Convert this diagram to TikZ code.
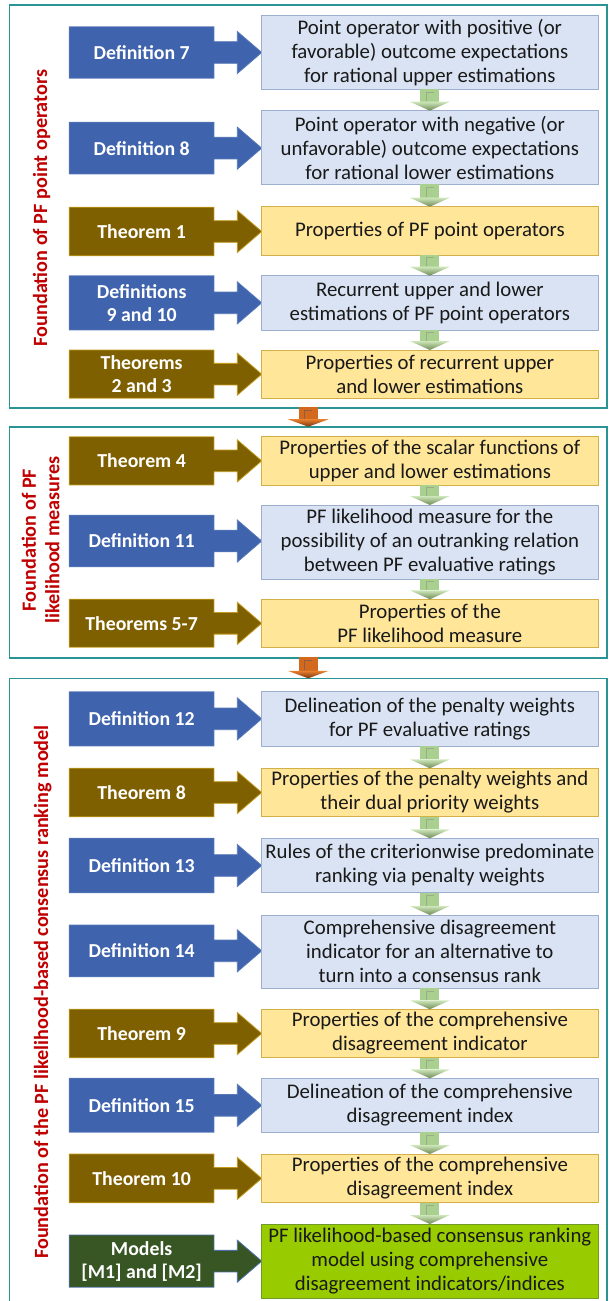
\documentclass[tikz,border=0pt]{standalone}
\usepackage{fontspec}
\setmainfont{Carlito}
\usetikzlibrary{calc}
\definecolor{cTeal}{HTML}{2A9494}
\definecolor{cRed}{HTML}{C00000}
\definecolor{cBlue}{HTML}{3F63AD}
\definecolor{cBlueB}{HTML}{5677B8}
\definecolor{cOlive}{HTML}{7F6000}
\definecolor{cOliveB}{HTML}{C29A1A}
\definecolor{cDkGreen}{HTML}{375623}
\definecolor{cDkGreenB}{HTML}{4A6FA5}
\definecolor{cBoxB}{HTML}{DAE3F3}
\definecolor{cBoxBB}{HTML}{9EAFCD}
\definecolor{cBoxY}{HTML}{FFE699}
\definecolor{cBoxYB}{HTML}{D4B048}
\definecolor{cBoxG}{HTML}{99CC00}
\definecolor{cBoxGB}{HTML}{6F9A2A}
\definecolor{cGrShaft}{HTML}{A9D08E}
\definecolor{cGrTop}{HTML}{CDE6BA}
\definecolor{cGrBot}{HTML}{6E8A55}
\definecolor{cOrShaft}{HTML}{D2691E}
\definecolor{cOrTop}{HTML}{E8802E}
\definecolor{cOrBot}{HTML}{7A3510}
\tikzset{
  frame/.style={draw=cTeal, line width=1.6pt, inner sep=0pt, outer sep=0pt},
  redlab/.style={text=cRed, font=\fontsize{20.2}{23.5}\selectfont\bfseries, inner sep=0pt},
  lbody/.style={inner sep=0pt, outer sep=0pt, minimum width=144.7pt, align=center, text=white,
    font=\fontsize{19.8}{22.7}\selectfont\bfseries},
  rbox/.style={inner sep=0pt, outer sep=0pt, minimum width=336.3pt, align=center, text=black!90,
    font=\fontsize{20.8}{24}\selectfont, line width=0.8pt},
  blueL/.style={fill=cBlue}, blueB/.style={draw=cBlueB, line width=0.8pt},
  blueR/.style={fill=cBoxB, draw=cBoxBB},
  oliveL/.style={fill=cOlive}, oliveB/.style={draw=cOliveB, line width=0.8pt},
  oliveR/.style={fill=cBoxY, draw=cBoxYB},
  greenL/.style={fill=cDkGreen}, greenB/.style={draw=cDkGreenB, line width=0.8pt},
  greenR/.style={fill=cBoxG, draw=cBoxGB},
}
\newcommand\rowitem[8]{%
  \pgfmathsetmacro\am{(#2+#3)/2}\pgfmathsetmacro\ah{#3-#2}%
  \pgfmathsetmacro\bm{(#4+#5)/2}\pgfmathsetmacro\bh{#5-#4}%
  \node[lbody, #6L, minimum height=\ah pt] (L#1) at (141.65,\am) {#7};
  \fill[#6L] ($(L#1.east)+(-0.6,-10.8)$) -- ++(23.9,0) -- ++(0,-10.2) -- ++(24.4,21)
     -- ++(-24.4,21) -- ++(0,-10.2) -- ++(-23.9,0) -- cycle;
  \draw[#6B, line join=miter] (L#1.north west) -- (L#1.north east) -- ($(L#1.east)+(0,-10.8)$)
     -- ++(23.3,0) -- ++(0,-10.2) -- ++(24.4,21) -- ++(-24.4,21) -- ++(0,-10.2) -- ++(-23.3,0)
     -- (L#1.south east) -- (L#1.south west) -- cycle;
  \node[rbox, #6R, minimum height=\bh pt, anchor=west] (R#1) at (261.7,\bm) {#8};
}
\newcommand\garrow[2]{%
  \fill[cGrShaft] let \p1=(#1.south), \p2=(#2.north) in
    (\x1-9.5pt,\y1) rectangle (\x1+9.5pt,\y2+9pt);
  \draw[cGrBot!70, line width=0.6pt] let \p1=(#1.south), \p2=(#2.north) in
    (\x1-4pt,\y2+9.5pt) -- (\x1-4pt,\y1-2.5pt) -- (\x1+4pt,\y1-2.5pt);
  \shade[top color=cGrTop, bottom color=cGrBot] let \p1=(#1.south), \p2=(#2.north) in
    (\x1-20pt,\y2+9pt) -- (\x1+20pt,\y2+9pt) -- (\x2,\y2) -- cycle;
}
\newcommand\oarrow[2]{%
  \fill[cOrShaft] let \p1=(#1.south), \p2=(#2.north) in
    (\x1-9.5pt,\y1+0.8pt) rectangle (\x1+9.5pt,\y2+7.5pt);
  \draw[cOrBot!80, line width=0.6pt] let \p1=(#1.south), \p2=(#2.north) in
    (\x1-4pt,\y2+8pt) -- (\x1-4pt,\y1-3pt) -- (\x1+4pt,\y1-3pt);
  \shade[top color=cOrTop, bottom color=cOrBot] let \p1=(#1.south), \p2=(#2.north) in
    (\x1-20.5pt,\y2+7.5pt) -- (\x1+20.5pt,\y2+7.5pt) -- (\x2,\y2) -- cycle;
}
\begin{document}
\begin{tikzpicture}[x=1pt,y=-1pt]
\useasboundingbox (0,0) rectangle (608,1301);
\fill[white] (0,0) rectangle (608,1301);
% section frames
\node[frame, minimum width=597.5pt, minimum height=402.7pt, anchor=north west] (F1) at (9.5,5) {};
\node[frame, minimum width=597.5pt, minimum height=231pt, anchor=north west] (F2) at (9.5,426.7) {};
\node[frame, minimum width=597.5pt, minimum height=640pt, anchor=north west] (F3) at (9.5,678.3) {};
% section labels
\node[redlab, rotate=90, anchor=base] (T1) at (47,208) {Foundation of PF point operators};
\node[redlab, rotate=90, align=center] (T2) at (40.6,540) {Foundation of PF\\likelihood measures};
\node[redlab, rotate=90, anchor=base] (T3) at (48,992) {Foundation of the PF likelihood-based consensus ranking model};
% rows
\rowitem{1}{26.7}{78.3}{15}{89.3}{blue}{Definition 7}{Point operator with positive (or\\favorable) outcome expectations\\for rational upper estimations}
\rowitem{2}{122.3}{174}{110.7}{184.3}{blue}{Definition 8}{Point operator with negative (or\\unfavorable) outcome expectations\\for rational lower estimations}
\rowitem{3}{207.3}{255.7}{206.7}{255}{olive}{Theorem 1}{Properties of PF point operators}
\rowitem{4}{275.7}{330}{275.7}{330}{blue}{Definitions\\9 and 10}{Recurrent upper and lower\\estimations of PF point operators}
\rowitem{5}{350}{398.3}{350}{398.3}{olive}{Theorems\\2 and 3}{Properties of recurrent upper\\and lower estimations}
\rowitem{6}{436.7}{485}{436.7}{485}{olive}{Theorem 4}{Properties of the scalar functions of\\upper and lower estimations}
\rowitem{7}{515.3}{566.7}{505}{579}{blue}{Definition 11}{PF likelihood measure for the\\possibility of an outranking relation\\between PF evaluative ratings}
\rowitem{8}{599.3}{647.3}{599.3}{647.3}{olive}{Theorems 5-7}{Properties of the\\PF likelihood measure}
\rowitem{9}{691.7}{746}{691.7}{746}{blue}{Definition 12}{Delineation of the penalty weights\\for PF evaluative ratings}
\rowitem{10}{768.3}{816.7}{768.3}{816.7}{olive}{Theorem 8}{Properties of the penalty weights and\\their dual priority weights}
\rowitem{11}{838.3}{892.7}{838.3}{892.7}{blue}{Definition 13}{Rules of the criterionwise predominate\\ranking via penalty weights}
\rowitem{12}{925}{976.7}{915}{988.3}{blue}{Definition 14}{Comprehensive disagreement\\indicator for an alternative to\\turn into a consensus rank}
\rowitem{13}{1009.3}{1057.7}{1009.3}{1057.7}{olive}{Theorem 9}{Properties of the comprehensive\\disagreement indicator}
\rowitem{14}{1078.3}{1132.3}{1078.3}{1132.3}{blue}{Definition 15}{Delineation of the comprehensive\\disagreement index}
\rowitem{15}{1154}{1202.7}{1154}{1202.7}{olive}{Theorem 10}{Properties of the comprehensive\\disagreement index}
\rowitem{16}{1235}{1287.3}{1224}{1298.3}{green}{Models\\{[M1]} and {[M2]}}{PF likelihood-based consensus ranking\\model using comprehensive\\disagreement indicators/indices}
% flow arrows
\garrow{R1}{R2}\garrow{R2}{R3}\garrow{R3}{R4}\garrow{R4}{R5}
\garrow{R6}{R7}\garrow{R7}{R8}
\garrow{R9}{R10}\garrow{R10}{R11}\garrow{R11}{R12}\garrow{R12}{R13}
\garrow{R13}{R14}\garrow{R14}{R15}\garrow{R15}{R16}
\oarrow{F1}{F2}\oarrow{F2}{F3}
\end{tikzpicture}
\end{document}
